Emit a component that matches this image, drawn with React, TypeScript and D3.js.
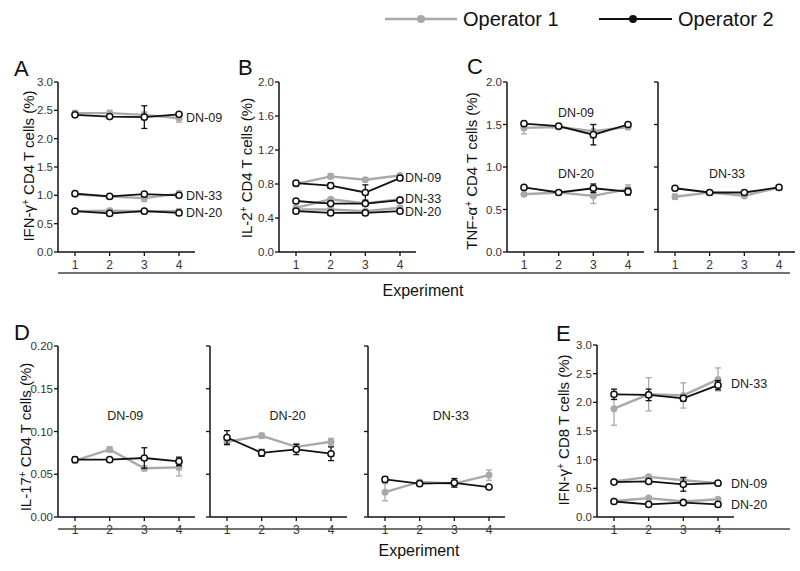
import React from "react";
import * as d3 from "d3";

const experiments = [1, 2, 3, 4];
const operators = ["Operator 1", "Operator 2"];

// Panel A: IFN-γ+ CD4 T cells (%)
const aDN09Op1 = [2.45, 2.45, 2.42, 2.36];
const aDN09Op2 = [2.42, 2.39, 2.38, 2.43];
const aDN33Op1 = [1.02, 0.98, 0.95, 1.03];
const aDN33Op2 = [1.03, 0.98, 1.02, 1.0];
const aDN20Op1 = [0.72, 0.73, 0.72, 0.72];
const aDN20Op2 = [0.72, 0.68, 0.72, 0.69];
const aDN09Op1Err = [0.05, 0.05, 0.05, 0.07];
const aDN09Op2Err = [0.02, 0.02, 0.2, 0.02];
const aDN33Op1Err = [0.03, 0.03, 0.06, 0.05];
const aDN33Op2Err = [0.02, 0.02, 0.02, 0.02];
const aDN20Op1Err = [0.03, 0.04, 0.03, 0.04];
const aDN20Op2Err = [0.02, 0.02, 0.02, 0.02];

// Panel B: IL-2+ CD4 T cells (%)
const bDN09Op1 = [0.8, 0.89, 0.85, 0.9];
const bDN09Op2 = [0.81, 0.78, 0.7, 0.87];
const bDN33Op1 = [0.52, 0.62, 0.57, 0.62];
const bDN33Op2 = [0.6, 0.57, 0.57, 0.61];
const bDN20Op1 = [0.5, 0.5, 0.48, 0.52];
const bDN20Op2 = [0.48, 0.46, 0.46, 0.48];
const bDN09Op1Err = [0.03, 0.03, 0.02, 0.02];
const bDN09Op2Err = [0.03, 0.03, 0.09, 0.02];
const bDN33Op1Err = [0.02, 0.02, 0.02, 0.02];
const bDN33Op2Err = [0.02, 0.02, 0.02, 0.02];
const bDN20Op1Err = [0.02, 0.02, 0.02, 0.02];
const bDN20Op2Err = [0.02, 0.02, 0.02, 0.02];

// Panel C: TNF-α+ CD4 T cells (%)
const cDN09Op1 = [1.46, 1.47, 1.42, 1.47];
const cDN09Op2 = [1.51, 1.48, 1.38, 1.5];
const cDN20Op1 = [0.68, 0.7, 0.66, 0.74];
const cDN20Op2 = [0.76, 0.7, 0.75, 0.71];
const cDN33Op1 = [0.65, 0.7, 0.66, 0.76];
const cDN33Op2 = [0.75, 0.7, 0.7, 0.76];
const cDN09Op1Err = [0.07, 0.02, 0.08, 0.03];
const cDN09Op2Err = [0.02, 0.01, 0.12, 0.02];
const cDN20Op1Err = [0.02, 0.02, 0.09, 0.05];
const cDN20Op2Err = [0.02, 0.02, 0.05, 0.04];
const cDN33Op1Err = [0.03, 0.03, 0.02, 0.02];
const cDN33Op2Err = [0.01, 0.01, 0.02, 0.02];

// Panel D: IL-17+ CD4 T cells (%)
const dDN09Op1 = [0.066, 0.079, 0.057, 0.058];
const dDN09Op2 = [0.067, 0.067, 0.069, 0.065];
const dDN20Op1 = [0.088, 0.095, 0.082, 0.088];
const dDN20Op2 = [0.093, 0.075, 0.079, 0.074];
const dDN33Op1 = [0.029, 0.041, 0.039, 0.049];
const dDN33Op2 = [0.044, 0.039, 0.04, 0.035];
const dDN09Op1Err = [0.003, 0.003, 0.003, 0.01];
const dDN09Op2Err = [0.003, 0.002, 0.012, 0.005];
const dDN20Op1Err = [0.004, 0.003, 0.004, 0.004];
const dDN20Op2Err = [0.008, 0.004, 0.006, 0.008];
const dDN33Op1Err = [0.01, 0.002, 0.004, 0.006];
const dDN33Op2Err = [0.003, 0.002, 0.005, 0.002];

// Panel E: IFN-γ+ CD8 T cells (%)
const eDN33Op1 = [1.89, 2.14, 2.12, 2.4];
const eDN33Op2 = [2.14, 2.13, 2.07, 2.3];
const eDN09Op1 = [0.62, 0.7, 0.64, 0.59];
const eDN09Op2 = [0.61, 0.62, 0.57, 0.59];
const eDN20Op1 = [0.28, 0.33, 0.27, 0.31];
const eDN20Op2 = [0.27, 0.22, 0.25, 0.22];
const eDN33Op1Err = [0.29, 0.29, 0.22, 0.2];
const eDN33Op2Err = [0.09, 0.1, 0.05, 0.08];
const eDN09Op1Err = [0.02, 0.03, 0.04, 0.02];
const eDN09Op2Err = [0.03, 0.03, 0.12, 0.02];
const eDN20Op1Err = [0.02, 0.02, 0.02, 0.02];
const eDN20Op2Err = [0.02, 0.02, 0.02, 0.02];

// Tick values
const ticksA = [0, 0.5, 1.0, 1.5, 2.0, 2.5, 3.0];
const ticksB = [0, 0.4, 0.8, 1.2, 1.6, 2.0];
const ticksC = [0, 0.5, 1.0, 1.5, 2.0];
const ticksD = [0, 0.05, 0.1, 0.15, 0.2];
const ticksE = [0, 0.5, 1.0, 1.5, 2.0, 2.5, 3.0];

const GRAY = "#a9a9a9";
const BLACK = "#111";
const FONT = "Liberation Sans, Arial, Helvetica, sans-serif";

type Series = { op1: number[]; op2: number[]; e1: number[]; e2: number[] };
type Label = { text: string; ex: number; val: number; anchor: "start" | "middle"; dx?: number };

type PlotProps = {
  ax: number;
  top: number;
  bottom: number;
  ymax: number;
  ticks: number[];
  fmt: (v: number) => string;
  showLabels: boolean;
  series: Series[];
  labels: Label[];
};

function Plot({ ax, top, bottom, ymax, ticks, fmt, showLabels, series, labels }: PlotProps) {
  const x = d3.scaleLinear().domain([1, 4]).range([ax + 17, ax + 121]);
  const y = d3.scaleLinear().domain([0, ymax]).range([bottom, top]);
  const line = d3
    .line<number>()
    .x((_, i) => x(experiments[i]))
    .y((d) => y(d));
  const axEnd = ax + 137;
  const drawSeries = (vals: number[], errs: number[], color: string, width: number, open: boolean, key: string) => (
    <g key={key}>
      <path d={line(vals) || ""} fill="none" stroke={color} strokeWidth={width} />
      {vals.map((v, i) => {
        const cx = x(experiments[i]);
        const y1 = y(v - errs[i]);
        const y2 = y(v + errs[i]);
        return (
          <g key={i}>
            <line x1={cx} x2={cx} y1={y1} y2={y2} stroke={color} strokeWidth={1.3} />
            <line x1={cx - 3} x2={cx + 3} y1={y1} y2={y1} stroke={color} strokeWidth={1.3} />
            <line x1={cx - 3} x2={cx + 3} y1={y2} y2={y2} stroke={color} strokeWidth={1.3} />
            {open ? (
              <circle cx={cx} cy={y(v)} r={3.1} fill="#fff" stroke={color} strokeWidth={1.5} />
            ) : (
              <circle cx={cx} cy={y(v)} r={3.5} fill={color} />
            )}
          </g>
        );
      })}
    </g>
  );
  return (
    <g>
      <line x1={ax} x2={ax} y1={top} y2={bottom} stroke={BLACK} strokeWidth={1.5} />
      <line x1={ax} x2={axEnd} y1={bottom} y2={bottom} stroke={BLACK} strokeWidth={1.5} />
      {ticks.map((t) => (
        <g key={t}>
          <line x1={ax - 4} x2={ax} y1={y(t)} y2={y(t)} stroke={BLACK} strokeWidth={1.3} />
          {showLabels && (
            <text x={ax - 5} y={y(t)} dy="0.36em" textAnchor="end" fontSize={11.5} fill="#333" fontFamily={FONT}>
              {fmt(t)}
            </text>
          )}
        </g>
      ))}
      {experiments.map((e) => (
        <g key={e}>
          <line x1={x(e)} x2={x(e)} y1={bottom} y2={bottom + 4} stroke={BLACK} strokeWidth={1.3} />
          <text x={x(e)} y={bottom + 17} textAnchor="middle" fontSize={12} fill="#333" fontFamily={FONT}>
            {e}
          </text>
        </g>
      ))}
      {series.map((s, i) => drawSeries(s.op1, s.e1, GRAY, 2.4, false, "g" + i))}
      {series.map((s, i) => drawSeries(s.op2, s.e2, BLACK, 1.8, true, "b" + i))}
      {labels.map((l, i) => (
        <text
          key={i}
          x={x(l.ex) + (l.dx || 0)}
          y={y(l.val)}
          dy="0.35em"
          textAnchor={l.anchor}
          fontSize={12.5}
          fill="#222"
          fontFamily={FONT}
        >
          {l.text}
        </text>
      ))}
    </g>
  );
}

function YLabel({ x, y, main, rest }: { x: number; y: number; main: string; rest: string }) {
  return (
    <text
      transform={`translate(${x},${y}) rotate(-90)`}
      textAnchor="middle"
      fontSize={15}
      fill="#111"
      fontFamily={FONT}
    >
      {main}
      <tspan baselineShift="super" fontSize={10}>+</tspan>
      {rest}
    </text>
  );
}

function Letter({ x, y, t }: { x: number; y: number; t: string }) {
  return (
    <text x={x} y={y} fontSize={22} fill="#111" fontFamily={FONT}>
      {t}
    </text>
  );
}

export default function App() {
  const f1 = (v: number) => v.toFixed(1);
  const f2 = (v: number) => v.toFixed(2);
  const topTop = 82;
  const topBottom = 252;
  const botTop = 346;
  const botBottom = 517;
  return (
    <svg width={800} height={571} style={{ position: "absolute", left: 0, top: 0, background: "#fff" }}>
      {/* Legend */}
      <line x1={385} x2={457} y1={19} y2={19} stroke={GRAY} strokeWidth={2.4} />
      <circle cx={421} cy={19} r={4} fill={GRAY} />
      <text x={463} y={26} fontSize={20} fill="#111" fontFamily={FONT}>{operators[0]}</text>
      <line x1={599} x2={672} y1={19} y2={19} stroke={BLACK} strokeWidth={2} />
      <circle cx={633} cy={19} r={4} fill={BLACK} />
      <text x={678} y={26} fontSize={20} fill="#111" fontFamily={FONT}>{operators[1]}</text>

      {/* Panel A */}
      <Letter x={14} y={76} t="A" />
      <YLabel x={34} y={166} main="IFN-γ" rest=" CD4 T cells (%)" />
      <Plot
        ax={58}
        top={topTop}
        bottom={topBottom}
        ymax={3}
        ticks={ticksA}
        fmt={f1}
        showLabels
        series={[
          { op1: aDN09Op1, op2: aDN09Op2, e1: aDN09Op1Err, e2: aDN09Op2Err },
          { op1: aDN33Op1, op2: aDN33Op2, e1: aDN33Op1Err, e2: aDN33Op2Err },
          { op1: aDN20Op1, op2: aDN20Op2, e1: aDN20Op1Err, e2: aDN20Op2Err },
        ]}
        labels={[
          { text: "DN-09", ex: 4, val: 2.37, anchor: "start", dx: 7 },
          { text: "DN-33", ex: 4, val: 1.0, anchor: "start", dx: 7 },
          { text: "DN-20", ex: 4, val: 0.7, anchor: "start", dx: 7 },
        ]}
      />

      {/* Panel B */}
      <Letter x={238} y={75} t="B" />
      <YLabel x={252} y={168} main="IL-2" rest=" CD4 T cells (%)" />
      <Plot
        ax={279}
        top={topTop}
        bottom={topBottom}
        ymax={2}
        ticks={ticksB}
        fmt={f1}
        showLabels
        series={[
          { op1: bDN09Op1, op2: bDN09Op2, e1: bDN09Op1Err, e2: bDN09Op2Err },
          { op1: bDN33Op1, op2: bDN33Op2, e1: bDN33Op1Err, e2: bDN33Op2Err },
          { op1: bDN20Op1, op2: bDN20Op2, e1: bDN20Op1Err, e2: bDN20Op2Err },
        ]}
        labels={[
          { text: "DN-09", ex: 4, val: 0.88, anchor: "start", dx: 5 },
          { text: "DN-33", ex: 4, val: 0.63, anchor: "start", dx: 5 },
          { text: "DN-20", ex: 4, val: 0.48, anchor: "start", dx: 5 },
        ]}
      />

      {/* Panel C */}
      <Letter x={467} y={74} t="C" />
      <YLabel x={477} y={171} main="TNF-α" rest=" CD4 T cells (%)" />
      <Plot
        ax={507}
        top={topTop}
        bottom={topBottom}
        ymax={2}
        ticks={ticksC}
        fmt={f1}
        showLabels
        series={[
          { op1: cDN09Op1, op2: cDN09Op2, e1: cDN09Op1Err, e2: cDN09Op2Err },
          { op1: cDN20Op1, op2: cDN20Op2, e1: cDN20Op1Err, e2: cDN20Op2Err },
        ]}
        labels={[
          { text: "DN-09", ex: 2.5, val: 1.64, anchor: "middle" },
          { text: "DN-20", ex: 2.5, val: 0.92, anchor: "middle" },
        ]}
      />
      <Plot
        ax={658}
        top={topTop}
        bottom={topBottom}
        ymax={2}
        ticks={ticksC}
        fmt={f1}
        showLabels={false}
        series={[{ op1: cDN33Op1, op2: cDN33Op2, e1: cDN33Op1Err, e2: cDN33Op2Err }]}
        labels={[{ text: "DN-33", ex: 2.5, val: 0.92, anchor: "middle" }]}
      />

      {/* Top experiment rule */}
      <line x1={58} x2={790} y1={273} y2={273} stroke="#444" strokeWidth={1.5} />
      <text x={423} y={296} textAnchor="middle" fontSize={16} fill="#111" fontFamily={FONT}>Experiment</text>

      {/* Panel D */}
      <Letter x={14} y={340} t="D" />
      <YLabel x={31} y={437} main="IL-17" rest=" CD4 T cells (%)" />
      <Plot
        ax={58}
        top={botTop}
        bottom={botBottom}
        ymax={0.2}
        ticks={ticksD}
        fmt={f2}
        showLabels
        series={[{ op1: dDN09Op1, op2: dDN09Op2, e1: dDN09Op1Err, e2: dDN09Op2Err }]}
        labels={[{ text: "DN-09", ex: 2.45, val: 0.119, anchor: "middle" }]}
      />
      <Plot
        ax={210}
        top={botTop}
        bottom={botBottom}
        ymax={0.2}
        ticks={ticksD}
        fmt={f2}
        showLabels={false}
        series={[{ op1: dDN20Op1, op2: dDN20Op2, e1: dDN20Op1Err, e2: dDN20Op2Err }]}
        labels={[{ text: "DN-20", ex: 2.75, val: 0.119, anchor: "middle" }]}
      />
      <Plot
        ax={368}
        top={botTop}
        bottom={botBottom}
        ymax={0.2}
        ticks={ticksD}
        fmt={f2}
        showLabels={false}
        series={[{ op1: dDN33Op1, op2: dDN33Op2, e1: dDN33Op1Err, e2: dDN33Op2Err }]}
        labels={[{ text: "DN-33", ex: 2.9, val: 0.119, anchor: "middle" }]}
      />

      {/* Panel E */}
      <Letter x={556} y={341} t="E" />
      <YLabel x={569} y={430} main="IFN-γ" rest=" CD8 T cells (%)" />
      <Plot
        ax={597}
        top={345}
        bottom={botBottom}
        ymax={3}
        ticks={ticksE}
        fmt={f1}
        showLabels
        series={[
          { op1: eDN33Op1, op2: eDN33Op2, e1: eDN33Op1Err, e2: eDN33Op2Err },
          { op1: eDN09Op1, op2: eDN09Op2, e1: eDN09Op1Err, e2: eDN09Op2Err },
          { op1: eDN20Op1, op2: eDN20Op2, e1: eDN20Op1Err, e2: eDN20Op2Err },
        ]}
        labels={[
          { text: "DN-33", ex: 4, val: 2.32, anchor: "start", dx: 13 },
          { text: "DN-09", ex: 4, val: 0.59, anchor: "start", dx: 13 },
          { text: "DN-20", ex: 4, val: 0.21, anchor: "start", dx: 13 },
        ]}
      />

      {/* Bottom experiment rule */}
      <line x1={58} x2={790} y1={529} y2={529} stroke="#444" strokeWidth={1.5} />
      <text x={419} y={556} textAnchor="middle" fontSize={16} fill="#111" fontFamily={FONT}>Experiment</text>
    </svg>
  );
}
